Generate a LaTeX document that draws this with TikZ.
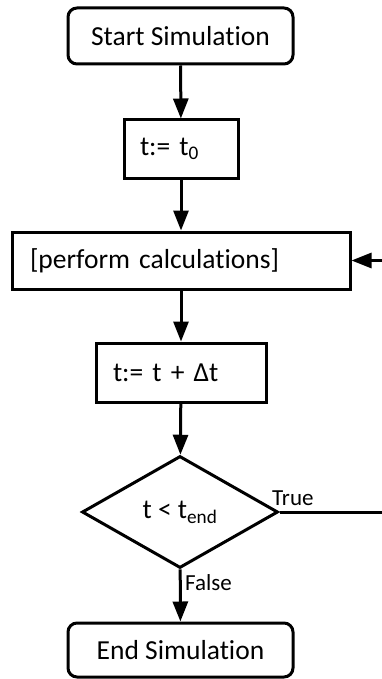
\documentclass[tikz,border=0pt]{standalone}
\usepackage{fontspec}
\setmainfont[Ligatures=NoCommon]{Carlito}
\usetikzlibrary{shapes.geometric,arrows.meta}
\tikzset{
  box/.style={draw, line width=3pt, inner ysep=0pt, minimum height=#1, font=\fontsize{27.5}{33}\selectfont},
  term/.style={box=56pt, rounded corners=9pt, minimum width=225pt},
  proc/.style={box=58pt, align=left},
  dec/.style={draw, diamond, line width=3pt, aspect=1.75, inner sep=0pt, minimum width=196pt, minimum height=112pt, font=\fontsize{27.5}{33}\selectfont},
  flow/.style={line width=3pt, -{Triangle[length=20pt,width=15pt]}},
  lbl/.style={inner sep=0pt, anchor=base west, font=\fontsize{23}{27}\selectfont}
}
\begin{document}
\begin{tikzpicture}[x=1pt,y=-1pt]
\useasboundingbox (0,0) rectangle (382,679);
\clip (0,0) rectangle (382,679);
\node[term] (start) at (180.5,36) {Start Simulation};
\node[proc, text width=82pt, inner xsep=16pt] (init) at (181,149) {t:= t\textsubscript{0}};
\node[proc, text width=302pt, inner xsep=18pt, minimum height=57pt] (calc) at (181,260.5) {[perform calculations]};
\node[proc, text width=136pt, inner xsep=17pt, minimum height=59pt] (inc) at (181,372.5) {t:= t + Δt};
\node[dec] (test) at (180,512) {t < t\textsubscript{end}};
\node[term, minimum height=54pt] (stop) at (180.5,650) {End Simulation};
\coordinate (rt) at (392,512);
\draw[flow] (start) -- (init);
\draw[flow] (init) -- (calc);
\draw[flow] (calc) -- (inc);
\draw[flow] (inc) -- (test);
\draw[flow] (test) -- (stop);
\draw[flow] (test.east) -- (rt) |- (calc.east);
\node[lbl] (ltrue) at (272,505) {True};
\node[lbl] (lfalse) at (185,590) {False};
\end{tikzpicture}
\end{document}
